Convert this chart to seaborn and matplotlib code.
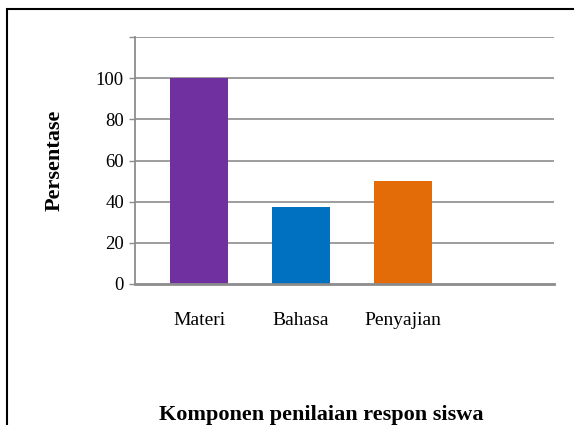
import matplotlib
matplotlib.use("Agg")
import matplotlib.pyplot as plt
import seaborn as sns
import pandas as pd
from matplotlib.patches import Rectangle

# --------------------------------------------------------------
# Data
# --------------------------------------------------------------
komponen = ["Materi", "Bahasa", "Penyajian"]
persentase = [100, 37.5, 50]
warna = ["#7030A0", "#0070C0", "#E36C09"]
y_ticks = [0, 20, 40, 60, 80, 100]

df = pd.DataFrame({"Komponen": komponen, "Persentase": persentase})

# --------------------------------------------------------------
# Plot
# --------------------------------------------------------------
sns.set_style("white")
plt.rcParams["font.family"] = ["Liberation Serif", "DejaVu Serif"]
plt.rcParams["text.color"] = "black"
plt.rcParams["xtick.labelcolor"] = "black"
plt.rcParams["ytick.labelcolor"] = "black"

fig = plt.figure(figsize=(5.74, 4.25), dpi=100)
ax = fig.add_axes([135 / 574, 1 - 284 / 425, (554 - 135) / 574, (284 - 37) / 425])

sns.barplot(data=df, x="Komponen", y="Persentase", hue="Komponen",
            palette=warna, width=0.57, saturation=1, legend=False, ax=ax,
            zorder=3, linewidth=0, edgecolor="none")

ax.set_xlim(-0.627, 3.48)
ax.set_ylim(0, 120)
ax.set_yticks(y_ticks + [120])
ax.set_yticklabels([str(t) for t in y_ticks] + [""])
for t in y_ticks[1:] + [120]:
    ax.axhline(t, color="#8c8c8c", lw=1.2, zorder=1)

for s in ["top", "right"]:
    ax.spines[s].set_visible(False)
ax.spines["left"].set_color("#8c8c8c")
ax.spines["left"].set_linewidth(1.3)
ax.spines["bottom"].set_color("#8c8c8c")
ax.spines["bottom"].set_linewidth(2)
ax.spines["bottom"].set_zorder(4)

ax.tick_params(axis="y", length=4, width=1, color="#8c8c8c", direction="out",
               left=True, pad=4, labelsize=13.5, labelcolor="black")
ax.tick_params(axis="x", length=0, pad=20, labelsize=14, labelcolor="black")
ax.set_xlabel("")
ax.set_ylabel("")

fig.text(55 / 574, 1 - 160 / 425, "Persentase", rotation=90, ha="center",
         va="center", fontsize=16, fontweight="bold", color="black")
fig.text(321 / 574, 1 - 415 / 425, "Komponen penilaian respon siswa",
         ha="center", va="center", fontsize=16, fontweight="bold", color="black")

fig.patches.append(Rectangle((7 / 574, -0.05), 1.0, 1 - 9 / 425 + 0.05,
                             transform=fig.transFigure, fill=False,
                             edgecolor="black", lw=1.5))

fig.savefig("out.png", dpi=100)
